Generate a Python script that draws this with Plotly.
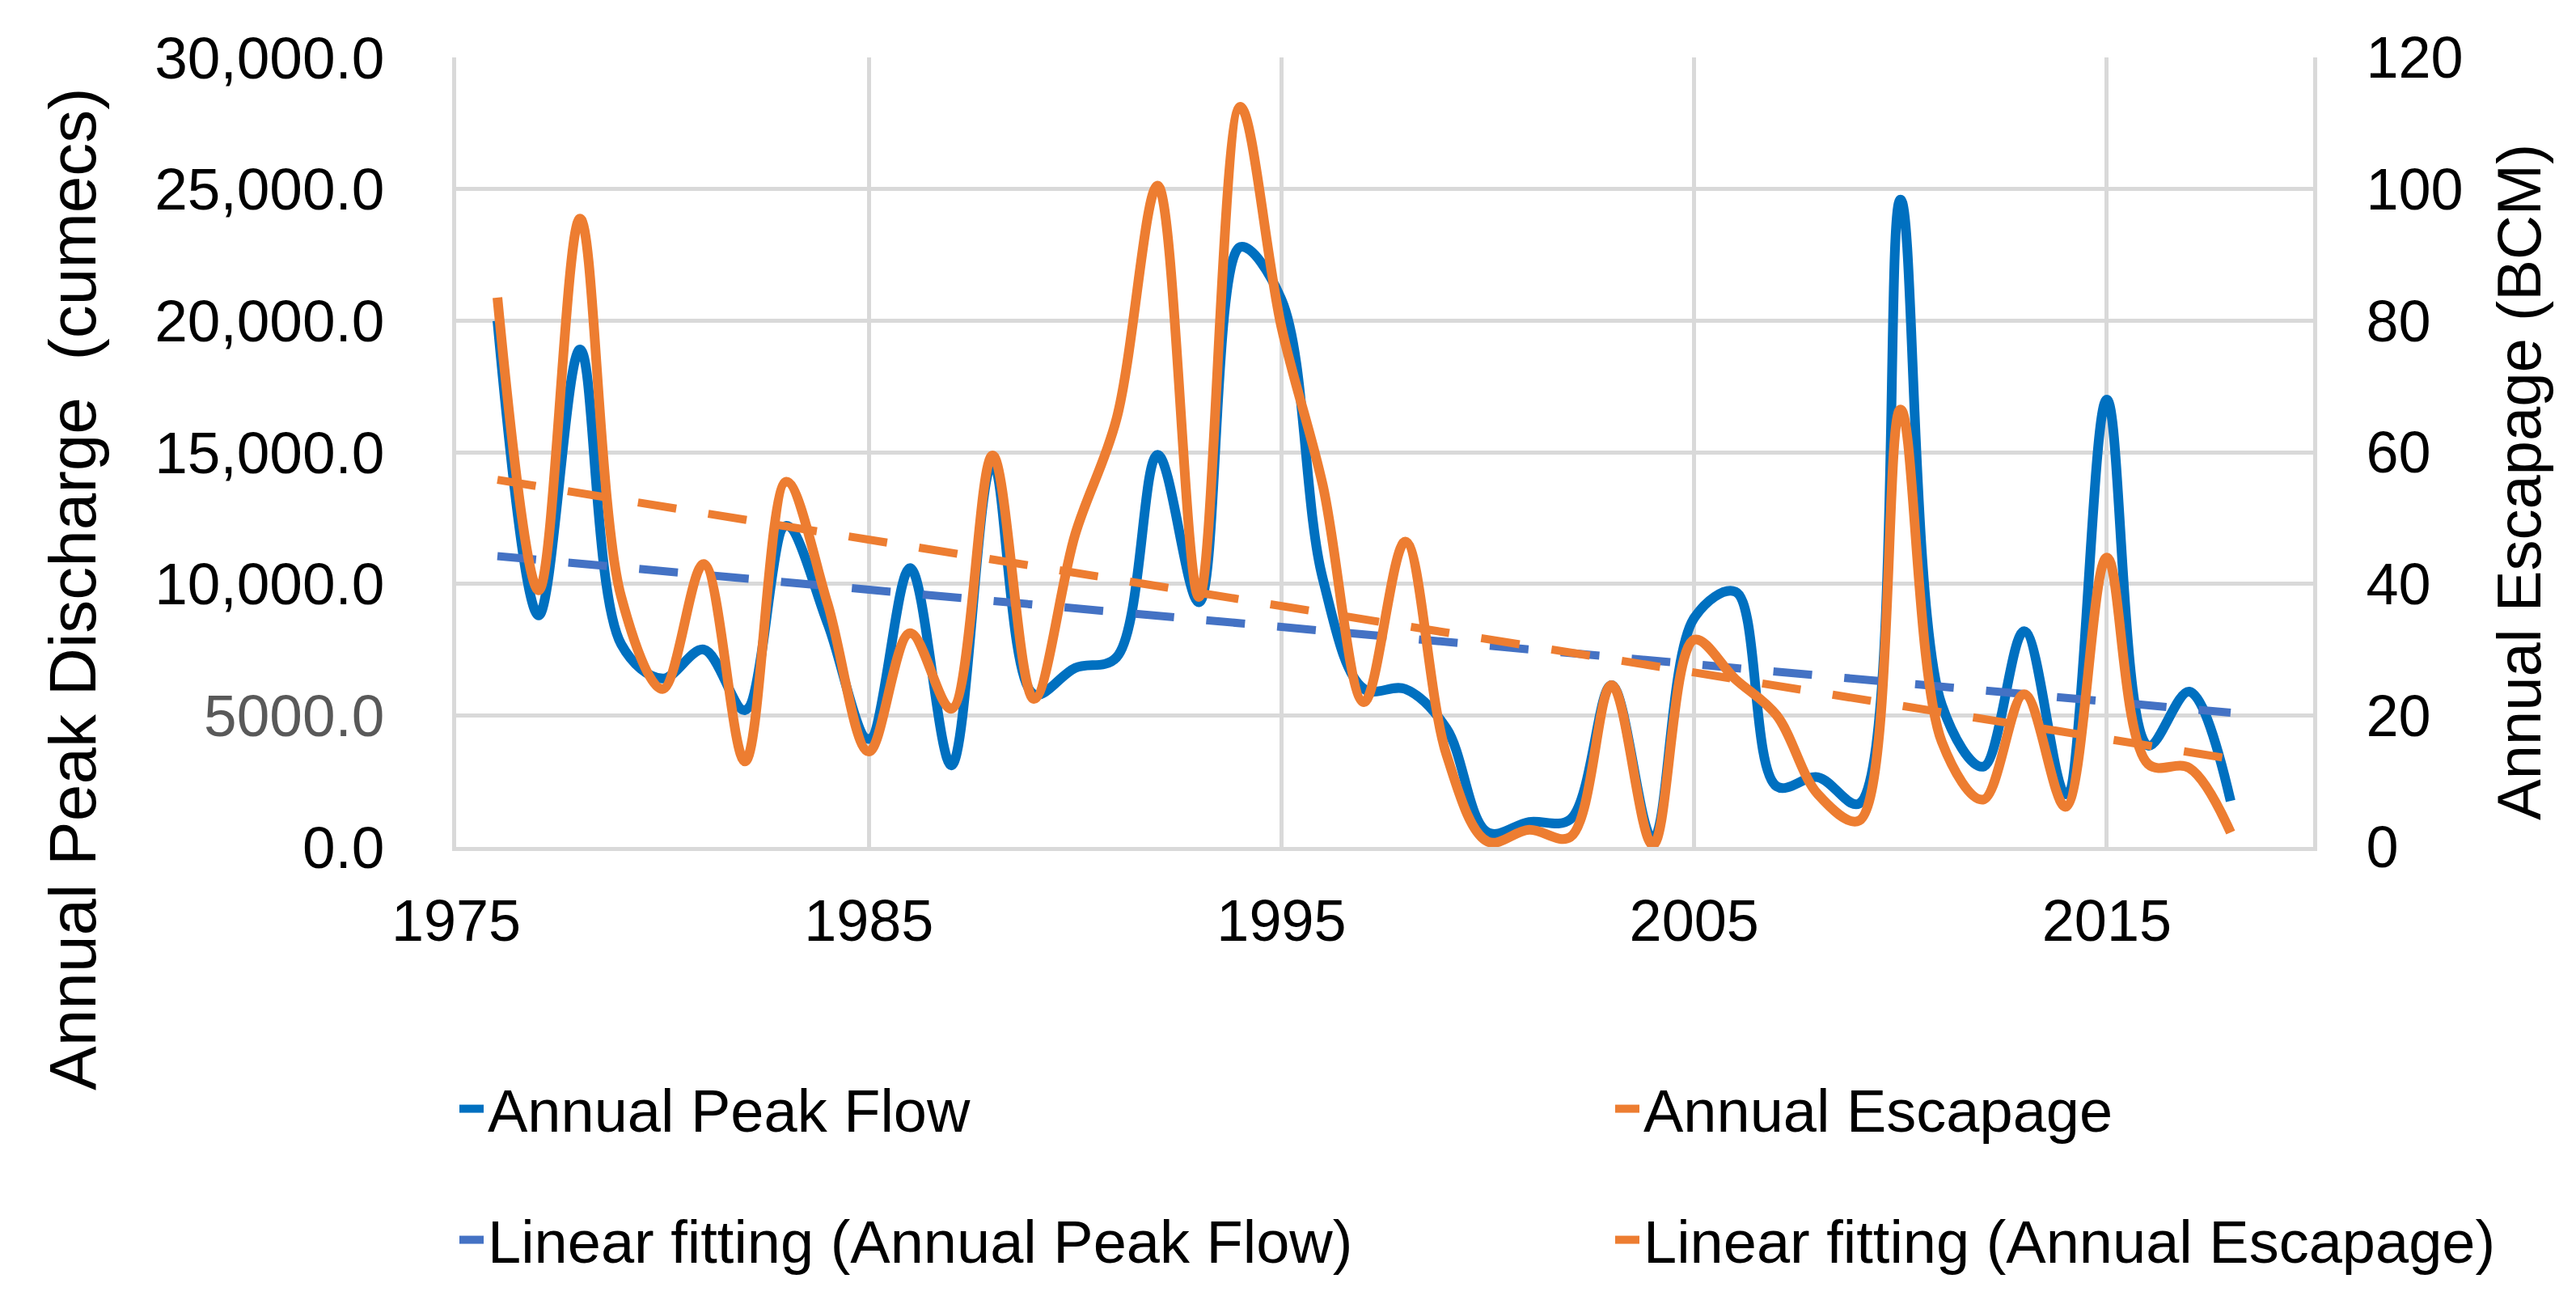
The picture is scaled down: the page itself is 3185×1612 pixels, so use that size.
import plotly.graph_objects as go

# ---------------- data ----------------
years = list(range(1976, 2019))

peak_flow = [20000, 8800, 18900, 7700, 6400, 7500, 5200, 12200, 8500, 4100,
             10600, 3100, 14600, 5800, 6800, 7200, 14900, 9300, 22800, 20800,
             10200, 6000, 6000, 4500, 550, 950, 1050, 6150, 300, 8700,
             9700, 2300, 2650, 1650, 24600, 5400, 3050, 8200, 2000, 17000,
             3850, 5900, 1750]

escapage = [83.5, 39, 95.5, 38, 24, 43, 13, 55.5, 37, 14.5,
            32.5, 21, 59.5, 22.5, 47.5, 65, 100.5, 38, 112.5, 79,
            55, 22, 46.4, 14, 0.8, 2.6, 1.5, 24.6, 0.3, 31.5,
            25.5, 20, 8, 4, 66.5, 16, 7.2, 23.2, 6.1, 44,
            12.6, 12, 2.2]

trend_years = [1976, 2018]
trend_peak_flow = [11050, 5100]
trend_escapage = [55.8, 13.4]

left_tick_vals = [0, 5000, 10000, 15000, 20000, 25000, 30000]
left_tick_text = ["0.0", "<span style='color:#595959'>5000.0</span>", "10,000.0",
                  "15,000.0", "20,000.0", "25,000.0", "30,000.0"]
right_tick_vals = [0, 20, 40, 60, 80, 100, 120]
x_tick_vals = [1975, 1985, 1995, 2005, 2015]

# ---------------- styling ----------------
W, H = 3185, 1612
ML, MR, MT, MB = 564, 325, 71, 565
FONT = "Liberation Sans, Arial, sans-serif"
BLUE = "#0070C0"
ORANGE = "#ED7D31"
TREND_BLUE = "#4472C4"
GRID = "#D9D9D9"

fig = go.Figure()

fig.add_trace(go.Scatter(x=years, y=peak_flow, name="Annual Peak Flow",
                         mode="lines", line=dict(color=BLUE, width=12, shape="spline", smoothing=1),
                         yaxis="y", legend="legend"))
fig.add_trace(go.Scatter(x=trend_years, y=trend_peak_flow, name="Linear fitting (Annual Peak Flow)",
                         mode="lines", line=dict(color=TREND_BLUE, width=10, dash="48px,40px"),
                         yaxis="y", legend="legend2"))
fig.add_trace(go.Scatter(x=years, y=escapage, name="Annual Escapage",
                         mode="lines", line=dict(color=ORANGE, width=12, shape="spline", smoothing=1),
                         yaxis="y2", legend="legend"))
fig.add_trace(go.Scatter(x=trend_years, y=trend_escapage, name="Linear fitting (Annual Escapage)",
                         mode="lines", line=dict(color=ORANGE, width=10, dash="48px,40px"),
                         yaxis="y2", legend="legend2"))

def py(px_from_top):
    return (H - MB - px_from_top) / (H - MT - MB)

def px_(px_from_left):
    return (px_from_left - ML) / (W - ML - MR)

legend_common = dict(orientation="h", xref="paper", x=px_(563), xanchor="left",
                     yanchor="middle", entrywidth=1384, entrywidthmode="pixels",
                     font=dict(family=FONT, size=74, color="#000000"),
                     bgcolor="rgba(0,0,0,0)", itemwidth=30)

fig.update_layout(
    width=W, height=H,
    margin=dict(l=ML, r=MR, t=MT, b=MB, autoexpand=False),
    paper_bgcolor="white", plot_bgcolor="white",
    font=dict(family=FONT, size=72, color="#000000"),
    showlegend=True,
    legend=dict(y=py(1371), **legend_common),
    legend2=dict(y=py(1533), **legend_common),
    xaxis=dict(range=[1975, 2020], tickvals=x_tick_vals, showgrid=True, gridcolor=GRID,
               gridwidth=5, showline=True, linecolor=GRID, linewidth=5, zeroline=False,
               ticks="", ticklabelstandoff=25, tickfont=dict(size=72, family=FONT)),
    yaxis=dict(range=[0, 30000], tickvals=left_tick_vals, ticktext=left_tick_text,
               showgrid=True, gridcolor=GRID, gridwidth=5, showline=True, linecolor=GRID,
               linewidth=5, zeroline=False, ticks="", ticklabelstandoff=69,
               tickfont=dict(size=73, family=FONT)),
    yaxis2=dict(range=[0, 120], tickvals=right_tick_vals, overlaying="y", side="right",
                showgrid=False, showline=True, linecolor=GRID, linewidth=5, zeroline=False,
                ticks="", ticklabelstandoff=46, tickfont=dict(size=72, family=FONT)),
    annotations=[
        dict(text="Annual Peak Discharge  (cumecs)", textangle=-90, showarrow=False,
             xref="paper", yref="paper", x=px_(89), y=py(728), xanchor="center",
             yanchor="middle", font=dict(family=FONT, size=82, color="#000000")),
        dict(text="Annual Escapage (BCM)", textangle=-90, showarrow=False,
             xref="paper", yref="paper", x=px_(3114), y=py(596), xanchor="center",
             yanchor="middle", font=dict(family=FONT, size=76, color="#000000")),
    ],
)

fig.write_html("out.html", config={"displayModeBar": False},
               post_script="document.body.style.margin='0';document.body.style.overflow='hidden';")
